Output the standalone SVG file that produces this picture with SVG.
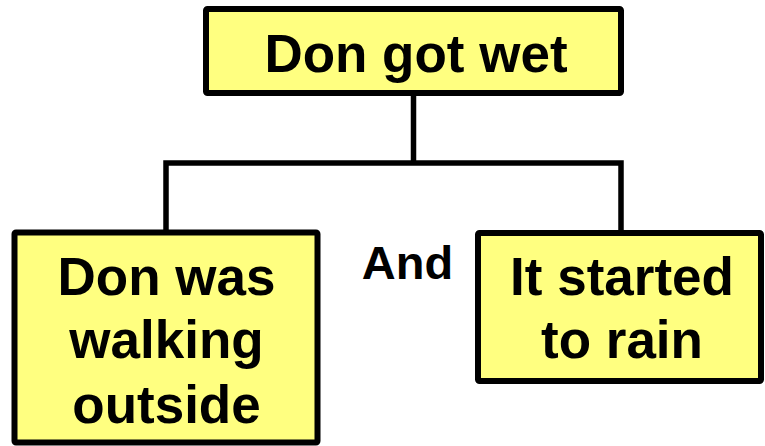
<svg xmlns="http://www.w3.org/2000/svg" width="765" height="446" viewBox="0 0 765 446">
<style>
.box{fill:#FFFF80;stroke:#000;stroke-width:6}
.lbl{font-family:"Liberation Sans",Arial,sans-serif;font-weight:bold;font-size:53px;fill:#000;text-anchor:middle}
.conn{fill:none;stroke:#000;stroke-width:5.5;stroke-linejoin:miter}
</style>
<rect width="765" height="446" fill="#fff"/>
<g id="connectors">
<path class="conn" d="M413.5 93 V163"/>
<path class="conn" d="M166 233 V163 H621 V233"/>
</g>
<g id="node-top">
<rect class="box" x="206" y="9" width="415" height="84" rx="1.5"/>
<text class="lbl" x="416" y="72">Don got wet</text>
</g>
<g id="node-left">
<rect class="box" x="14.5" y="232.5" width="303" height="210" rx="1.5"/>
<text class="lbl" x="166.5" y="295">Don was</text>
<text class="lbl" x="166.5" y="358">walking</text>
<text class="lbl" x="166.5" y="423">outside</text>
</g>
<g id="node-right">
<rect class="box" x="478" y="233" width="283" height="148" rx="1.5"/>
<text class="lbl" x="622" y="295">It started</text>
<text class="lbl" x="622" y="358">to rain</text>
</g>
<g id="label-and">
<text class="lbl" x="407.5" y="279" style="font-size:47px">And</text>
</g>
</svg>
